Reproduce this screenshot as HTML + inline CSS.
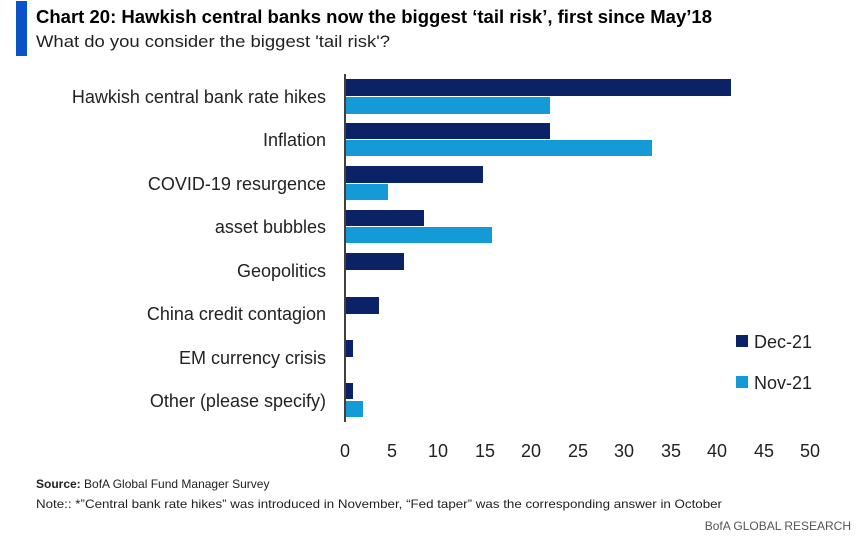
<!DOCTYPE html>
<html><head><style>
body{margin:0;background:#fff;}
svg text{font-family:"Liberation Sans",sans-serif;}
</style></head><body>
<svg width="861" height="543" xmlns="http://www.w3.org/2000/svg">
<rect x="16" y="1" width="11" height="55" fill="#0a52c8"/>
<text x="36" y="23" font-size="18" font-weight="bold" fill="#000" textLength="676" lengthAdjust="spacingAndGlyphs">Chart 20: Hawkish central banks now the biggest ‘tail risk’, first since May’18</text>
<text x="36" y="47" font-size="17" fill="#222" textLength="354" lengthAdjust="spacingAndGlyphs">What do you consider the biggest 'tail risk'?</text>
<g fill="#0b2366">
<rect x="346" y="79" width="385" height="17"/>
<rect x="346" y="123" width="204" height="16"/>
<rect x="346" y="166" width="137" height="17"/>
<rect x="346" y="210" width="78" height="16"/>
<rect x="346" y="253" width="58" height="17"/>
<rect x="346" y="297" width="33" height="17"/>
<rect x="346" y="340" width="7" height="17"/>
<rect x="346" y="383" width="7" height="16"/>
</g>
<g fill="#149bd7">
<rect x="346" y="97" width="204" height="17"/>
<rect x="346" y="140" width="306" height="16"/>
<rect x="346" y="184" width="42" height="16"/>
<rect x="346" y="227" width="146" height="16"/>
<rect x="346" y="401" width="17" height="16"/>
</g>
<line x1="345" y1="74" x2="345" y2="422" stroke="#000" stroke-width="1.5"/>
<g font-size="18" fill="#222" text-anchor="end">
<text x="326" y="103">Hawkish central bank rate hikes</text>
<text x="326" y="146">Inflation</text>
<text x="326" y="190">COVID-19 resurgence</text>
<text x="326" y="233">asset bubbles</text>
<text x="326" y="277">Geopolitics</text>
<text x="326" y="320">China credit contagion</text>
<text x="326" y="364">EM currency crisis</text>
<text x="326" y="407">Other (please specify)</text>
</g>
<g font-size="18" fill="#222" text-anchor="middle">
<text x="345" y="457">0</text><text x="392" y="457">5</text><text x="438" y="457">10</text><text x="485" y="457">15</text><text x="531" y="457">20</text><text x="578" y="457">25</text><text x="624" y="457">30</text><text x="671" y="457">35</text><text x="717" y="457">40</text><text x="764" y="457">45</text><text x="810" y="457">50</text>
</g>
<rect x="736" y="335" width="12" height="12" fill="#0b2366"/>
<text x="754" y="348" font-size="18" fill="#222">Dec-21</text>
<rect x="736" y="376" width="12" height="12" fill="#149bd7"/>
<text x="754" y="389" font-size="18" fill="#222">Nov-21</text>
<text x="36" y="488" font-size="12" fill="#222"><tspan font-weight="bold">Source:</tspan>  BofA Global Fund Manager Survey</text>
<text x="36" y="508" font-size="12" fill="#222" textLength="686" lengthAdjust="spacingAndGlyphs">Note:: *”Central bank rate hikes” was introduced  in November, “Fed taper” was the corresponding  answer in October</text>
<text x="851" y="530" font-size="12" fill="#555" text-anchor="end">BofA GLOBAL RESEARCH</text>
</svg>
</body></html>
